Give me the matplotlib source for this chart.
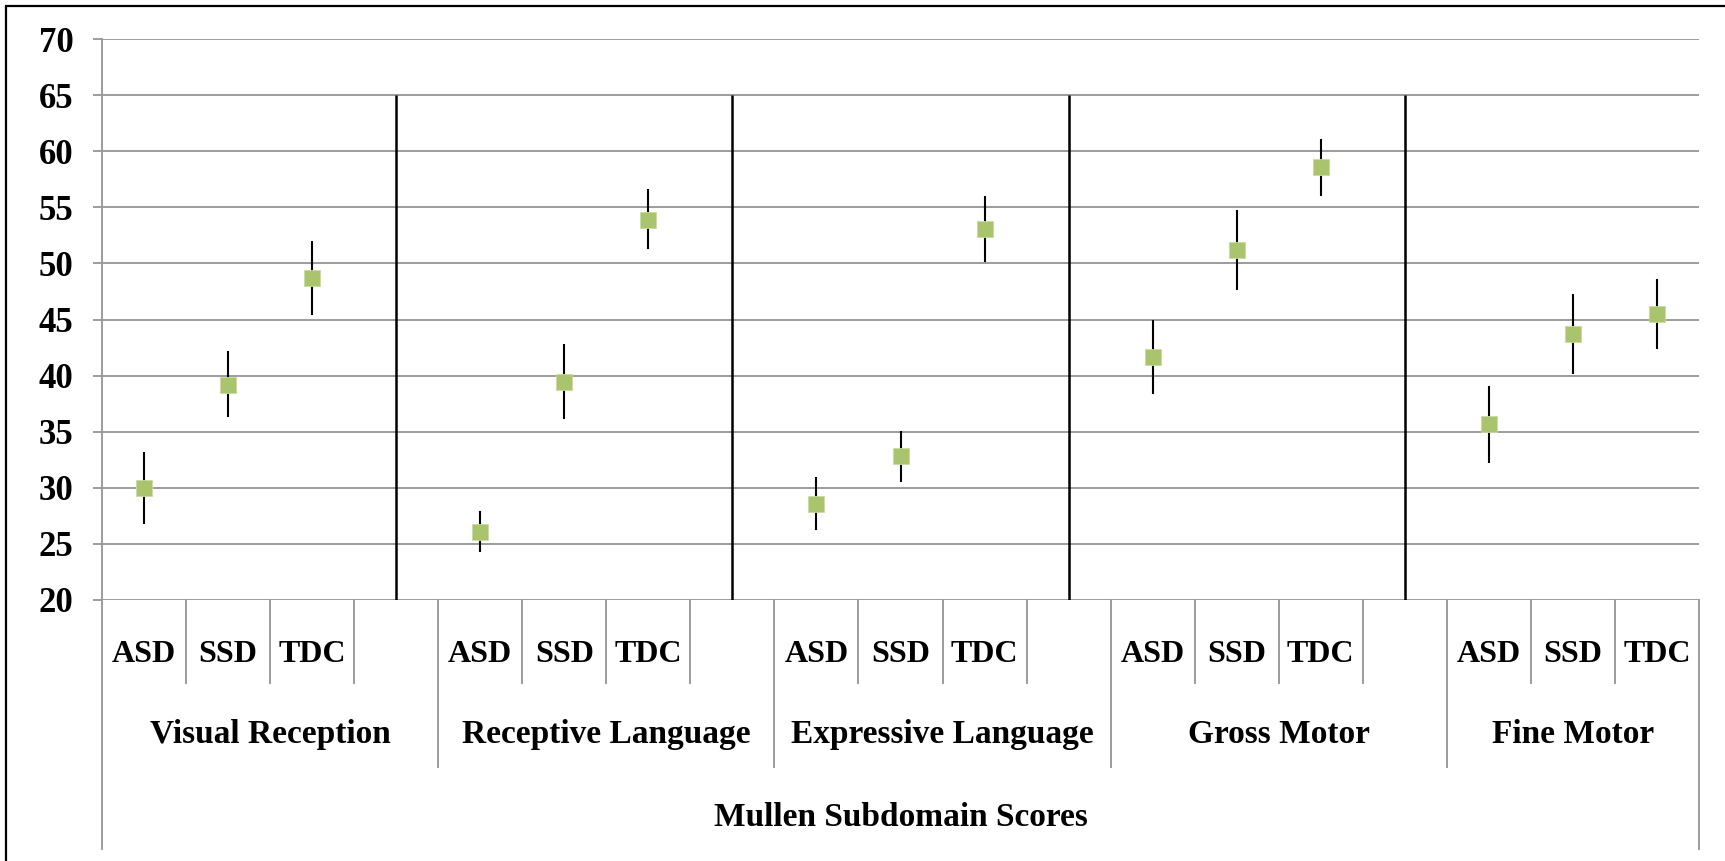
import numpy as np
import matplotlib.pyplot as plt
import matplotlib.transforms as mtransforms
from matplotlib.patches import Rectangle

# Mullen subdomain scores, mean with error bar ends
domains = ['Visual Reception', 'Receptive Language', 'Expressive Language',
           'Gross Motor', 'Fine Motor']
groups = ['ASD', 'SSD', 'TDC']

score_mean = [30.0, 39.2, 48.7,
              26.1, 39.4, 53.9,
              28.6, 32.8, 53.1,
              41.7, 51.2, 58.6,
              35.7, 43.7, 45.5]
score_low = [26.8, 36.3, 45.4,
             24.3, 36.1, 51.3,
             26.2, 30.5, 50.1,
             38.4, 47.6, 56.0,
             32.2, 40.1, 42.4]
score_high = [33.2, 42.2, 52.0,
              27.9, 42.8, 56.6,
              31.0, 35.1, 56.0,
              45.0, 54.8, 61.1,
              39.1, 47.3, 48.6]

y_ticks = list(range(20, 75, 5))
divider_top = 65
axis_title = 'Mullen Subdomain Scores'

font = {'family': 'Liberation Serif', 'weight': 'bold'}
grid_col = '#9c9c9c'
marker_col = '#a9c46c'

slot_step = len(groups) + 1
n_slots = slot_step * len(domains) - 1
xpos = [d * slot_step + g for d in range(len(domains)) for g in range(len(groups))]

fig = plt.figure(figsize=(17.25, 8.61), dpi=100)
ax = fig.add_axes([102 / 1725, 261 / 861, 1597 / 1725, 561 / 861])

# outer frame (only top/left edges fall inside the image)
fig.patches.append(Rectangle((5.5 / 1725, -0.05), 1.1, 1 - 6 / 861 + 0.05,
                             transform=fig.transFigure, fill=False,
                             edgecolor='black', linewidth=1.6))

ax.set_xlim(-0.5, n_slots - 0.5)
ax.set_ylim(y_ticks[0], y_ticks[-1])
ax.set_yticks(y_ticks)
ax.yaxis.grid(True, color=grid_col, linewidth=1.4)
ax.set_axisbelow(True)
ax.set_xticks([])
for s in ['top', 'right', 'bottom']:
    ax.spines[s].set_visible(False)
ax.spines['left'].set_color(grid_col)
ax.spines['left'].set_linewidth(1.4)
ax.tick_params(axis='y', direction='out', length=6.5, width=1.4,
               color=grid_col, pad=14)
for lab in ax.get_yticklabels():
    lab.set_family(font['family'])
    lab.set_weight('bold')
    lab.set_size(25)

# group dividers
div_x = [d * slot_step + len(groups) for d in range(len(domains) - 1)]
ax.vlines(div_x, y_ticks[0], divider_top, color='black', linewidth=1.8, zorder=3)

# error bars and points
mean = np.array(score_mean)
yerr = [mean - np.array(score_low), np.array(score_high) - mean]
ax.errorbar(xpos, mean, yerr=yerr, fmt='s', color=marker_col,
            markersize=11, markeredgecolor='#c8dca0', markeredgewidth=0.6,
            ecolor='black', elinewidth=1.5, capsize=0, zorder=4)

# multi-level category axis
trans = mtransforms.blended_transform_factory(ax.transData, ax.transAxes)
lvl1, lvl2, lvl3 = -83 / 561, -167 / 561, -249 / 561
for k in range(n_slots + 1):
    if k == 0 or k == n_slots:
        bottom = lvl3
    elif k % slot_step == 0:
        bottom = lvl2
    else:
        bottom = lvl1
    ax.plot([k - 0.5, k - 0.5], [0, bottom], transform=trans, color=grid_col,
            linewidth=1.4, clip_on=False)

for i, x in enumerate(xpos):
    ax.text(x, -62 / 561, groups[i % len(groups)], transform=trans,
            ha='center', va='baseline', fontsize=23, **font)

for d, name in enumerate(domains):
    start = d * slot_step - 0.5
    end = min(start + slot_step, n_slots - 0.5)
    ax.text((start + end) / 2, -143 / 561, name, transform=trans,
            ha='center', va='baseline', fontsize=24, **font)

ax.text((n_slots - 1) / 2, -226 / 561, axis_title, transform=trans,
        ha='center', va='baseline', fontsize=24, **font)

fig.savefig('out.png', dpi=100)
